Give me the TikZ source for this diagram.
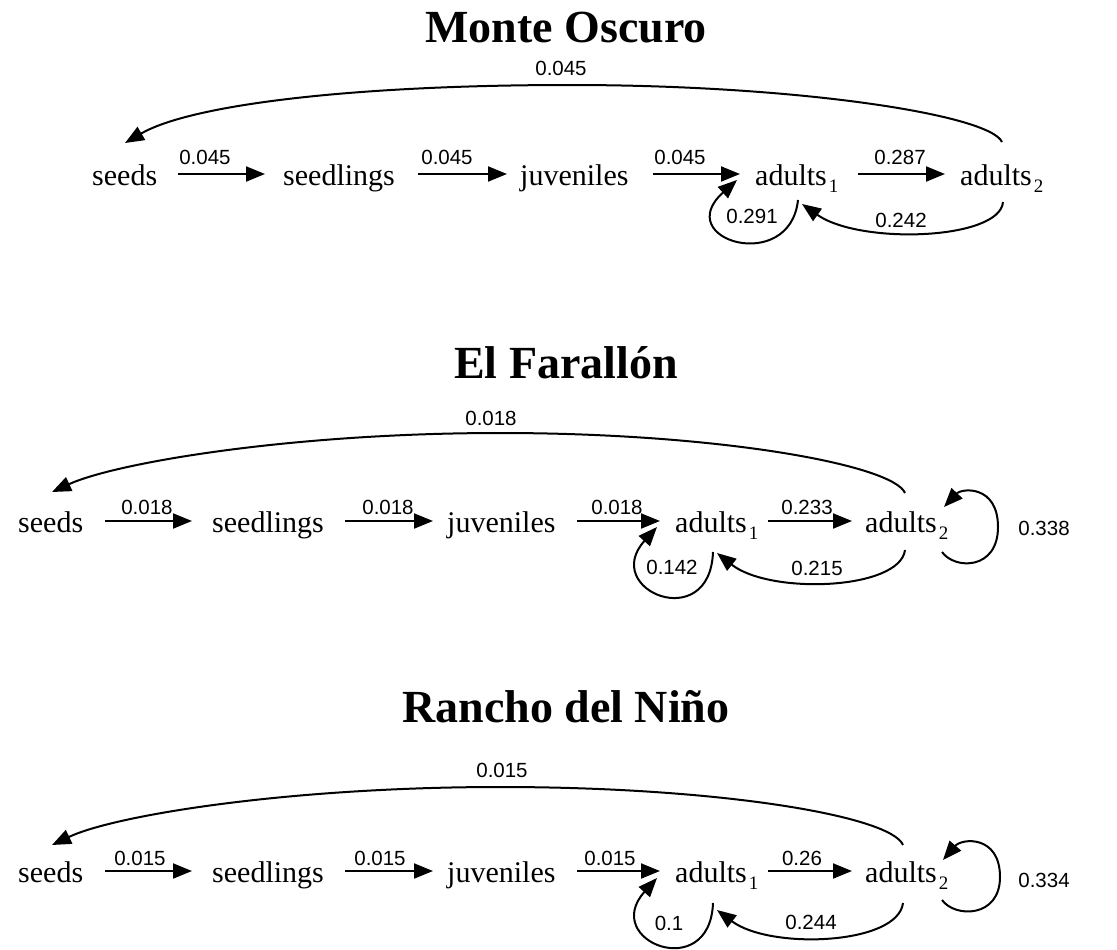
\documentclass[tikz,border=0pt]{standalone}
\usepackage{fontspec}
\setmainfont{Liberation Serif}
\newfontfamily\labfont{Liberation Sans}
\usetikzlibrary{arrows.meta,calc}
\newcommand\subidx[1]{\kern2pt\raisebox{-7pt}{\fontsize{19pt}{19pt}\selectfont #1}}
\begin{document}
\begin{tikzpicture}[x=1pt,y=1pt,
  stage/.style={inner sep=0pt,text height=22pt,text depth=0pt,anchor=base west,font=\fontsize{30pt}{32pt}\selectfont},
  ttl/.style={inner sep=0pt,anchor=base,font=\fontsize{46pt}{48pt}\selectfont\bfseries},
  lab/.style={inner sep=0pt,font=\labfont\fontsize{20.5pt}{22pt}\selectfont},
  arr/.style={line width=2pt,-{Triangle[length=19pt,width=15pt]}}]
\useasboundingbox (0,0) rectangle (1117,-950);

% ---------------- Monte Oscuro ----------------
\node[ttl] (t1) at (566,-43) {Monte Oscuro};
\node[stage] (s1) at (92,-185) {seeds};
\node[stage] (sl1) at (283,-185) {seedlings};
\node[stage] (j1) at (520,-185) {juveniles};
\node[stage] (a11) at (755,-185) {adults\subidx{1}};
\node[stage] (a21) at (960,-185) {adults\subidx{2}};
\draw[arr,shorten <=21pt,shorten >=18pt] (s1) -- (sl1);
\draw[arr,shorten <=23.3pt,shorten >=13pt] (sl1) -- (j1);
\draw[arr,shorten <=24.7pt,shorten >=15pt] (j1) -- (a11);
\draw[arr,shorten <=19.8pt,shorten >=15pt] (a11) -- (a21);
\draw[arr] ($(a21.base west)+(42,43)$) .. controls (990,-115) and (800,-85) .. (570,-85)
  .. controls (350,-85) and (190,-105) .. ($(s1.base west)+(33,42)$);
\draw[arr] ($(a11.base west)+(43,-15)$) .. controls (790,-275) and (670,-240) .. ($(a11.base west)+(-18,5)$);
\draw[arr] ($(a21.base west)+(43,-17)$) .. controls (1000,-240) and (860,-245) .. ($(a11.base west)+(47,-19)$);
\node[lab] (l1t) at (561,-68) {0.045};
\node[lab] (l1a) at (205,-157) {0.045};
\node[lab] (l1b) at (447,-157) {0.045};
\node[lab] (l1c) at (680,-157) {0.045};
\node[lab] (l1d) at (900,-157) {0.287};
\node[lab] (l1e) at (752,-216) {0.291};
\node[lab] (l1f) at (901,-220) {0.242};

% ---------------- El Farallon ----------------
\node[ttl] (t2) at (566,-378) {El Farallón};
\node[stage] (s2) at (18,-532) {seeds};
\node[stage] (sl2) at (212,-532) {seedlings};
\node[stage] (j2) at (447,-532) {juveniles};
\node[stage] (a12) at (675,-532) {adults\subidx{1}};
\node[stage] (a22) at (865,-532) {adults\subidx{2}};
\draw[arr,shorten <=22pt,shorten >=20pt] (s2) -- (sl2);
\draw[arr,shorten <=21.3pt,shorten >=14pt] (sl2) -- (j2);
\draw[arr,shorten <=21.7pt,shorten >=15pt] (j2) -- (a12);
\draw[arr,shorten <=9.8pt,shorten >=13pt] (a12) -- (a22);
\draw[arr] ($(a22.base west)+(40,39)$) .. controls (893,-465) and (720,-433) .. (500,-433)
  .. controls (290,-433) and (115,-463) .. ($(s2.base west)+(34,40)$);
\draw[arr] ($(a12.base west)+(38,-20)$) .. controls (710,-635) and (600,-590) .. ($(a12.base west)+(-18,5)$);
\draw[arr] ($(a22.base west)+(40,-18)$) .. controls (900,-590) and (770,-595) .. ($(a12.base west)+(42,-21)$);
\draw[arr] ($(a22.base west)+(77,-20)$) .. controls (955,-570) and (998,-570) .. (998,-527)
  .. controls (998,-485) and (962,-488) .. ($(a22.base west)+(79,25)$);
\node[lab] (l2t) at (491,-418) {0.018};
\node[lab] (l2a) at (147,-507) {0.018};
\node[lab] (l2b) at (388,-507) {0.018};
\node[lab] (l2c) at (617,-507) {0.018};
\node[lab] (l2d) at (807,-507) {0.233};
\node[lab] (l2e) at (672,-567) {0.142};
\node[lab] (l2f) at (817,-568) {0.215};
\node[lab] (l2g) at (1044,-528) {0.338};

% ---------------- Rancho del Nino ----------------
\node[ttl] (t3) at (566,-722) {Rancho del Niño};
\node[stage] (s3) at (18,-882) {seeds};
\node[stage] (sl3) at (212,-882) {seedlings};
\node[stage] (j3) at (447,-882) {juveniles};
\node[stage] (a13) at (675,-882) {adults\subidx{1}};
\node[stage] (a23) at (865,-882) {adults\subidx{2}};
\draw[arr,shorten <=22pt,shorten >=20pt] (s3) -- (sl3);
\draw[arr,shorten <=21.3pt,shorten >=14pt] (sl3) -- (j3);
\draw[arr,shorten <=21.7pt,shorten >=15pt] (j3) -- (a13);
\draw[arr,shorten <=9.8pt,shorten >=13pt] (a13) -- (a23);
\draw[arr] ($(a23.base west)+(38,37)$) .. controls (891,-816) and (720,-787) .. (500,-787)
  .. controls (290,-787) and (115,-815) .. ($(s3.base west)+(34,37)$);
\draw[arr] ($(a13.base west)+(38,-21)$) .. controls (710,-984) and (600,-941) .. ($(a13.base west)+(-18,4)$);
\draw[arr] ($(a23.base west)+(38,-21)$) .. controls (898,-945) and (770,-950) .. ($(a13.base west)+(42,-28)$);
\draw[arr] ($(a23.base west)+(77,-18)$) .. controls (955,-918) and (1000,-918) .. (1000,-877)
  .. controls (1000,-835) and (962,-838) .. ($(a23.base west)+(78,22)$);
\node[lab] (l3t) at (502,-770) {0.015};
\node[lab] (l3a) at (140,-858) {0.015};
\node[lab] (l3b) at (380,-858) {0.015};
\node[lab] (l3c) at (610,-858) {0.015};
\node[lab] (l3d) at (802,-858) {0.26};
\node[lab] (l3e) at (669,-923) {0.1};
\node[lab] (l3f) at (811,-922) {0.244};
\node[lab] (l3g) at (1044,-880) {0.334};
\end{tikzpicture}
\end{document}
